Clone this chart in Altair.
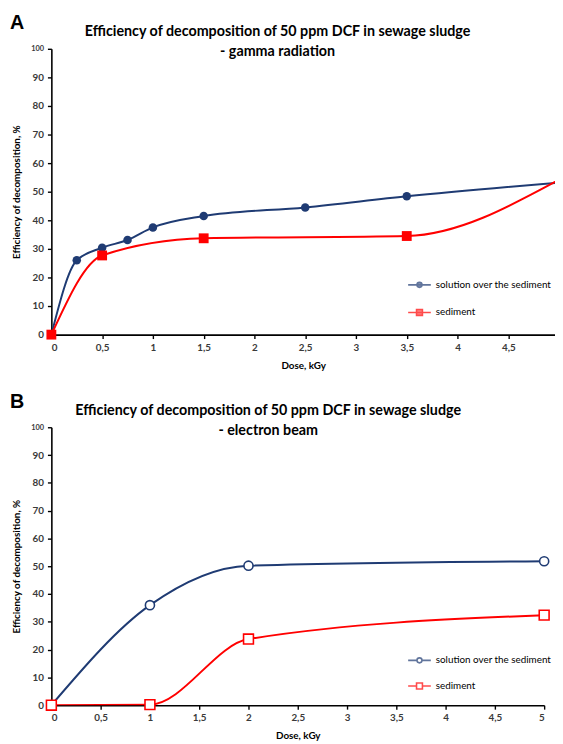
import altair as alt
import pandas as pd

# ---------------- data ----------------
series = ["solution over the sediment", "sediment"]
colors = ["#1F3B73", "#FF0000"]
panel_letters = ["A", "B"]
titles_a = ["Efficiency of decomposition of 50 ppm DCF in sewage sludge", "- gamma radiation"]
titles_b = ["Efficiency of decomposition of 50 ppm DCF in sewage sludge", "- electron beam"]

a_sol_dose = [0, 0.25, 0.5, 0.75, 1, 1.5, 2.5, 3.5, 5]
a_sol_eff = [0, 26.0, 30.4, 33.1, 37.5, 41.5, 44.5, 48.4, 53.2]
a_sed_dose = [0, 0.5, 1.5, 3.5, 5]
a_sed_eff = [0, 27.7, 33.7, 34.5, 54.2]

b_sol_dose = [0, 1, 2, 5]
b_sol_eff = [0, 36.0, 50.2, 51.8]
b_sed_dose = [0, 1, 2, 5]
b_sed_eff = [0, 0.2, 23.8, 32.4]

y_ticks = [0, 10, 20, 30, 40, 50, 60, 70, 80, 90, 100]
x_ticks_a = [0, 0.5, 1, 1.5, 2, 2.5, 3, 3.5, 4, 4.5]
x_ticks_b = [0, 0.5, 1, 1.5, 2, 2.5, 3, 3.5, 4, 4.5, 5]

FONT = "Lato"

legend_shapes_a = [
    "M-1,0L1,0M-0.22,0A0.22,0.22,0,1,0,0.22,0A0.22,0.22,0,1,0,-0.22,0Z",
    "M-1,0L1,0M-0.26,-0.26L0.26,-0.26L0.26,0.26L-0.26,0.26Z",
]
legend_shapes_b = [
    "M-1,0L-0.22,0M0.22,0L1,0M-0.22,0A0.22,0.22,0,1,0,0.22,0A0.22,0.22,0,1,0,-0.22,0Z",
    "M-1,0L-0.26,0M0.26,0L1,0M-0.26,-0.26L0.26,-0.26L0.26,0.26L-0.26,0.26Z",
]


def panel(letter, title, sol_d, sol_e, sed_d, sed_e, xticks, xmax, width, height,
          filled, legend_shapes, legend_x, legend_y, row_pad, title_dx, title_offset):
    sol = pd.DataFrame({"dose": sol_d, "eff": sol_e})
    sed = pd.DataFrame({"dose": sed_d, "eff": sed_e})

    x_enc = alt.X(
        "dose:Q",
        scale=alt.Scale(domain=[0, xmax], nice=False, zero=True),
        axis=alt.Axis(
            values=xticks,
            title="Dose, kGy",
            labelExpr="replace(toString(datum.value), '.', ',')",
            labelOverlap=False,
            titleBaseline="middle",
            titleY=31,
        ),
    )
    y_enc = alt.Y(
        "eff:Q",
        scale=alt.Scale(domain=[0, 100], nice=False),
        axis=alt.Axis(
            values=y_ticks,
            tickCount=11,
            title="Efficiency of decomposition, %",
            labelOverlap=False,
            labelFontSize={"condition": {"test": "datum.value == 100", "value": 7.5}, "value": 10},
            titleBaseline="middle",
            titleX=-35,
            titleY=height / 2,
        ),
    )

    line_sol = alt.Chart(sol).mark_line(
        color=colors[0], strokeWidth=2, interpolate="monotone", clip=True
    ).encode(x=x_enc, y=y_enc)
    line_sed = alt.Chart(sed).mark_line(
        color=colors[1], strokeWidth=2, interpolate="monotone", clip=True
    ).encode(x="dose:Q", y="eff:Q")

    in_view = f"datum.dose <= {xmax}"
    if filled:
        pts_sol = alt.Chart(sol).transform_filter(in_view).mark_point(
            shape="circle", filled=True, color=colors[0], size=75, opacity=1
        ).encode(x="dose:Q", y="eff:Q")
        pts_sed = alt.Chart(sed).transform_filter(in_view).mark_point(
            shape="square", filled=True, color=colors[1], size=100, opacity=1
        ).encode(x="dose:Q", y="eff:Q")
    else:
        pts_sol = alt.Chart(sol).transform_filter(in_view).mark_point(
            shape="circle", filled=False, color=colors[0], size=85, strokeWidth=1.6,
            opacity=1, fill="white"
        ).encode(x="dose:Q", y="eff:Q")
        pts_sed = alt.Chart(sed).transform_filter(in_view).mark_point(
            shape="square", filled=False, color=colors[1], size=100, strokeWidth=1.6,
            opacity=1, fill="white"
        ).encode(x="dose:Q", y="eff:Q")

    leg = alt.Legend(
        orient="none", legendX=legend_x, legendY=legend_y, title=None,
        labelFont=FONT, labelFontSize=10, labelColor="black", labelOffset=4,
        symbolSize=529, symbolStrokeWidth=1.6, rowPadding=row_pad, padding=0,
        direction="vertical",
    )
    fill_range = colors if filled else ["white", "white"]
    legend_layer = alt.Chart(pd.DataFrame({"series": series})).transform_filter(
        "false"
    ).mark_point(size=529, strokeWidth=1.6).encode(
        x="dose:Q", y="eff:Q",
        fill=alt.Fill("series:N", scale=alt.Scale(domain=series, range=fill_range), legend=leg),
        stroke=alt.Stroke("series:N", scale=alt.Scale(domain=series, range=colors), legend=leg),
        shape=alt.Shape("series:N", scale=alt.Scale(domain=series, range=legend_shapes), legend=leg),
    )

    letter_layer = alt.Chart(pd.DataFrame({"label": [letter]})).mark_text(
        font="Liberation Sans", fontSize=20, fontWeight="bold", align="left",
        baseline="middle", color="black"
    ).encode(text="label:N", x=alt.value(-42), y=alt.value(-26))

    return alt.layer(
        line_sol, line_sed, pts_sol, pts_sed, legend_layer, letter_layer
    ).properties(
        width=width,
        height=height,
        title=alt.Title(
            text=title, font=FONT, fontSize=14.5, fontWeight="bold", color="black",
            anchor="middle", frame="group", offset=title_offset, dx=title_dx, lineHeight=20,
        ),
    )


panel_a = panel(panel_letters[0], titles_a, a_sol_dose, a_sol_eff, a_sed_dose, a_sed_eff,
                x_ticks_a, 4.96, 511, 290, True, legend_shapes_a, 361, 227, 9, -26, -47)
panel_b = panel(panel_letters[1], titles_b, b_sol_dose, b_sol_eff, b_sed_dose, b_sed_eff,
                x_ticks_b, 5, 500, 282, False, legend_shapes_b, 361, 224, 7, -30, -47)

chart = alt.vconcat(panel_a, panel_b, spacing=22).resolve_scale(
    fill="independent", stroke="independent", shape="independent"
).resolve_legend(
    fill="independent", stroke="independent", shape="independent"
).properties(
    padding={"left": 2, "top": 0, "right": 0, "bottom": 0}
).configure_view(stroke=None).configure_axis(
    grid=False,
    domainColor="black",
    domainWidth=1.6,
    tickColor="black",
    tickWidth=1.4,
    tickSize=4,
    labelFont=FONT,
    labelFontSize=10,
    labelFontWeight="bold",
    labelColor="#3a3a3a",
    labelPadding=4,
    titleFont=FONT,
    titleFontSize=10,
    titleFontWeight="bold",
    titleColor="black",
)

chart.save("out.html", embed_options={"renderer": "svg", "actions": False})
